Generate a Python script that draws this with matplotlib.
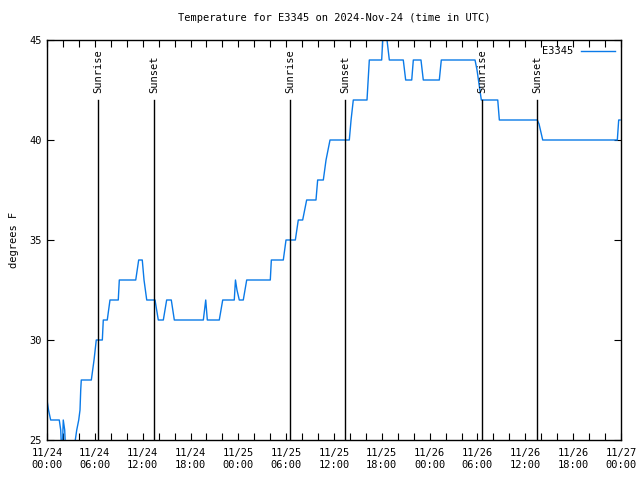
import numpy as np
import matplotlib
matplotlib.use('Agg')
import matplotlib.pyplot as plt
from matplotlib.ticker import MultipleLocator, FixedLocator

# hours since 2024-11-24 00:00 UTC and temperature (F)
hours = [0.00, 0.19, 0.46, 1.54, 1.72, 1.88, 2.04, 2.22, 2.38, 3.39, 3.55, 3.73,
         3.98, 4.14, 4.23, 4.30, 5.56, 5.90, 6.18, 6.94, 7.06, 7.56, 7.90, 8.94,
         9.07, 11.13, 11.50, 11.95, 12.17, 12.51, 13.55, 13.96, 14.59, 15.01, 15.59,
         15.97, 19.61, 19.91, 20.11, 21.61, 22.04, 23.49, 23.64, 23.83, 24.12, 24.62,
         25.05, 28.01, 28.14, 29.64, 29.98, 31.15, 31.52, 32.07, 32.57, 33.74, 33.95,
         34.66, 35.00, 35.50, 37.92, 38.14, 38.42, 40.14, 40.43, 41.98, 42.11, 42.27,
         42.52, 42.65, 42.94, 44.69, 44.99, 45.75, 45.95, 46.91, 47.20, 49.21, 49.46,
         53.69, 53.94, 54.19, 54.48, 56.54, 56.74, 61.50, 61.72, 62.18, 71.54, 71.71,
         71.88]
temps = [27, 26.5, 26, 26, 25.5, 24, 26, 25.5, 24, 24, 25, 25.5,
         26, 26.5, 27.5, 28, 28, 29, 30, 30, 31, 31, 32, 32,
         33, 33, 34, 34, 33, 32, 32, 31, 31, 32, 32,
         31, 31, 32, 31, 31, 32, 32, 33, 32.5, 32, 32,
         33, 33, 34, 34, 35, 35, 36, 36, 37, 37, 38,
         38, 39, 40, 40, 41, 42, 42, 44, 44, 45, 45.5,
         45.5, 45, 44, 44, 43, 43, 44, 44, 43, 43, 44,
         44, 43.5, 42.8, 42, 42, 41, 41, 40.8, 40, 40, 41,
         41]

sun_hours = [6.44, 13.46, 30.52, 37.42, 54.61, 61.50]
sun_labels = ['Sunrise', 'Sunset', 'Sunrise', 'Sunset', 'Sunrise', 'Sunset']

tick_labels = ['11/24\n00:00', '11/24\n06:00', '11/24\n12:00', '11/24\n18:00',
               '11/25\n00:00', '11/25\n06:00', '11/25\n12:00', '11/25\n18:00',
               '11/26\n00:00', '11/26\n06:00', '11/26\n12:00', '11/26\n18:00',
               '11/27\n00:00']

plt.rcParams['font.family'] = 'DejaVu Sans Mono'
plt.rcParams['font.size'] = 7.5

fig = plt.figure(figsize=(6.4, 4.8), dpi=100)
ax = fig.add_axes([47/640, 40/480, 574/640, 400/480])

ax.plot(hours, temps, color='#0a7ae8', lw=1.0, label='E3345', clip_on=True)

for h, lab in zip(sun_hours, sun_labels):
    ax.plot([h, h], [25, 42], color='black', lw=1.0)
    ax.text(h, 42.35, lab, rotation=90, ha='center', va='bottom')

ax.set_xlim(0, 72)
ax.set_ylim(25, 45)
ax.xaxis.set_major_locator(FixedLocator(np.arange(0, 73, 6)))
ax.set_xticklabels(tick_labels)
ax.xaxis.set_minor_locator(MultipleLocator(2))
ax.yaxis.set_major_locator(MultipleLocator(5))
ax.tick_params(which='both', direction='in', top=True, right=True, length=5, width=0.8)
ax.tick_params(axis='x', pad=6)
for s in ax.spines.values():
    s.set_linewidth(1.0)

ax.set_ylabel('degrees F', labelpad=8, fontsize=7.5)
ax.set_title('Temperature for E3345 on 2024-Nov-24 (time in UTC)', pad=14, fontsize=7.5)
ax.legend(loc='upper right', frameon=False, handlelength=3.2, borderaxespad=0.2,
          markerfirst=False, handletextpad=0.8)

fig.savefig('out.png', dpi=100)
